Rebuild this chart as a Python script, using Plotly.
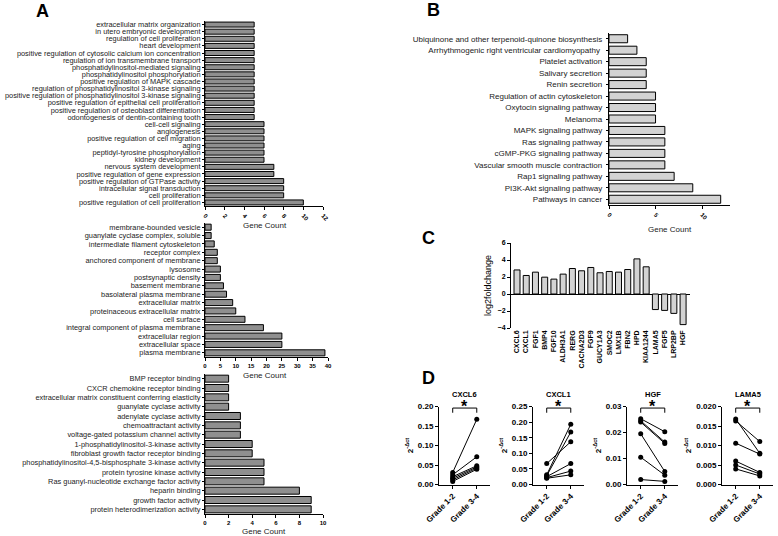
import plotly.graph_objects as go

W, H = 778, 536
FONT = "Liberation Sans, Arial, sans-serif"

# ---- Panel A: GO biological process ----
bp_terms = [
    "extracellular matrix organization", "in utero embryonic development",
    "regulation of cell proliferation", "heart development",
    "positive regulation of cytosolic calcium ion concentration",
    "regulation of ion transmembrane transport", "phosphatidylinositol-mediated signaling",
    "phosphatidylinositol phosphorylation", "positive regulation of MAPK cascade",
    "regulation of phosphatidylinositol 3-kinase signaling",
    "positive regulation of phosphatidylinositol 3-kinase signaling",
    "positive regulation of epithelial cell proliferation",
    "positive regulation of osteoblast differentiation",
    "odontogenesis of dentin-containing tooth", "cell-cell signaling", "angiogenesis",
    "positive regulation of cell migration", "aging", "peptidyl-tyrosine phosphorylation",
    "kidney development", "nervous system development",
    "positive regulation of gene expression", "positive regulation of GTPase activity",
    "intracellular signal transduction", "cell proliferation",
    "positive regulation of cell proliferation",
]
bp_counts = [5] * 14 + [6] * 6 + [7, 7, 8, 8, 8, 10]

# ---- Panel A: GO cellular component ----
cc_terms = [
    "membrane-bounded vesicle", "guanylate cyclase complex, soluble",
    "intermediate filament cytoskeleton", "receptor complex",
    "anchored component of membrane", "lysosome", "postsynaptic density",
    "basement membrane", "basolateral plasma membrane", "extracellular matrix",
    "proteinaceous extracellular matrix", "cell surface",
    "integral component of plasma membrane", "extracellular region",
    "extracellular space", "plasma membrane",
]
cc_counts = [2, 2, 3, 4, 4, 5, 5, 6, 7, 9, 10, 13, 19, 25, 25, 39]

# ---- Panel A: GO molecular function ----
mf_terms = [
    "BMP receptor binding", "CXCR chemokine receptor binding",
    "extracellular matrix constituent conferring elasticity",
    "guanylate cyclase activity", "adenylate cyclase activity",
    "chemoattractant activity", "voltage-gated potassium channel activity",
    "1-phosphatidylinositol-3-kinase activity",
    "fibroblast growth factor receptor binding",
    "phosphatidylinositol-4,5-bisphosphate 3-kinase activity",
    "protein tyrosine kinase activity",
    "Ras guanyl-nucleotide exchange factor activity", "heparin binding",
    "growth factor activity", "protein heterodimerization activity",
]
mf_counts = [2, 2, 2, 2, 3, 3, 3, 4, 4, 5, 5, 5, 8, 9, 9]

# ---- Panel B: KEGG ----
kegg_terms = [
    "Ubiquinone and other terpenoid-quinone biosynthesis ",
    "Arrhythmogenic right ventricular cardiomyopathy  ",
    "Platelet activation ", "Salivary secretion ", "Renin secretion ",
    "Regulation of actin cytoskeleton ", "Oxytocin signaling pathway ",
    "Melanoma ", "MAPK signaling pathway ", "Ras signaling pathway ",
    "cGMP-PKG signaling pathway ", "Vascular smooth muscle contraction ",
    "Rap1 signaling pathway ", "PI3K-Akt signaling pathway ",
    "Pathways in cancer ",
]
kegg_counts = [2, 3, 4, 4, 4, 5, 5, 5, 6, 6, 6, 6, 7, 9, 12]

# ---- Panel C: fold change ----
fc_genes = ["CXCL6", "CXCL1", "FGF1", "BMP4", "FGF10", "ALDH3A1", "RERG", "CACNA2D3",
            "FGF9", "GUCY1A3", "SMOC2", "LMX1B", "FBN2", "HPD", "KIAA1244",
            "LAMA5", "FGF5", "LRP2BP", "HGF"]
fc_values = [2.83, 2.18, 2.57, 1.98, 1.75, 2.34, 3.0, 2.73, 3.12, 2.5, 2.65, 2.57,
             2.88, 4.13, 3.2, -1.83, -1.93, -2.28, -3.6]

# ---- Panel D: qPCR paired ----
grades = ["Grade 1-2", "Grade 3-4"]
cxcl6_g12 = [0.031, 0.025, 0.020, 0.016, 0.012, 0.008]
cxcl6_g34 = [0.167, 0.071, 0.048, 0.045, 0.042, 0.039]
cxcl1_g12 = [0.067, 0.031, 0.028, 0.025, 0.022, 0.020]
cxcl1_g34 = [0.137, 0.193, 0.168, 0.067, 0.043, 0.031]
hgf_g12 = [0.0253, 0.0245, 0.0240, 0.0195, 0.0105, 0.0019]
hgf_g34 = [0.0203, 0.0163, 0.0158, 0.0050, 0.0036, 0.0012]
lama5_g12 = [0.0168, 0.0163, 0.0106, 0.0060, 0.0050, 0.0040]
lama5_g34 = [0.0080, 0.0110, 0.0078, 0.0031, 0.0027, 0.0022]


def xd(a, b):
    return [a / W, b / W]


def yd(top, bottom):
    return [1 - bottom / H, 1 - top / H]


def py(v):
    return 1 - v / H


fig = go.Figure()
layout = {}

axis_common = dict(showline=True, linecolor="black", linewidth=1, ticks="outside",
                   tickcolor="black", showgrid=False, zeroline=False, automargin=False)
bold_tick = dict(family=FONT, size=7, color="black", weight="bold")
label_tick = dict(family=FONT, size=7.4, color="#222")

# Panel A bars
a_panels = [
    (bp_terms, bp_counts, 0.7, (205, 323), (21, 206), [0, 12], 2, 45),
    (cc_terms, cc_counts, 0.72, (205, 328), (223, 357), [0, 40], 5, 0),
    (mf_terms, mf_counts, 0.75, (205, 323), (374, 514), [0, 10], 2, 0),
]
for i, (terms, counts, bw, xr, yr, rng, dt, ang) in enumerate(a_panels, start=1):
    sfx = "" if i == 1 else str(i)
    fig.add_trace(go.Bar(x=counts, y=terms, orientation="h", width=bw,
                         marker=dict(color="#8f8f8f", line=dict(color="black", width=1)),
                         xaxis="x" + sfx, yaxis="y" + sfx, showlegend=False))
    layout["xaxis" + sfx] = dict(domain=xd(*xr), range=rng, dtick=dt, tickangle=ang,
                                 anchor="y" + sfx, ticklen=3, tickfont=dict(bold_tick, size=6),
                                 **axis_common)
    layout["yaxis" + sfx] = dict(domain=yd(*yr), type="category", autorange="reversed",
                                 tickmode="array", tickvals=terms, ticktext=terms,
                                 anchor="x" + sfx, ticklen=2, tickfont=label_tick,
                                 **axis_common)

# Panel B bars
fig.add_trace(go.Bar(x=kegg_counts, y=kegg_terms, orientation="h", width=0.7,
                     marker=dict(color="#d3d3d3", line=dict(color="black", width=1)),
                     xaxis="x4", yaxis="y4", showlegend=False))
layout["xaxis4"] = dict(domain=xd(609, 730), range=[0, 13], dtick=5, tickangle=45,
                        anchor="y4", ticklen=3, tickfont=dict(bold_tick, size=6), **axis_common)
layout["yaxis4"] = dict(domain=yd(33, 205), type="category", autorange="reversed",
                        tickmode="array", tickvals=kegg_terms, ticktext=kegg_terms,
                        anchor="x4", ticklen=2, tickfont=dict(label_tick, size=8), **axis_common)

# Panel C bars
fig.add_trace(go.Bar(x=fc_genes, y=fc_values, width=0.65,
                     marker=dict(color="#d3d3d3", line=dict(color="black", width=1)),
                     xaxis="x5", yaxis="y5", showlegend=False))
layout["xaxis5"] = dict(domain=xd(511, 690), range=[-0.65, 18.75], anchor="y5",
                        tickmode="array", tickvals=fc_genes, ticktext=fc_genes,
                        tickangle=-90, ticks="", showline=False, showgrid=False,
                        zeroline=False, automargin=False, tickfont=dict(bold_tick, size=7))
layout["yaxis5"] = dict(domain=yd(243, 328), range=[-4, 6], dtick=2, anchor="x5",
                        showline=True, linecolor="black", linewidth=1, ticks="outside",
                        ticklen=3, tickcolor="black", showgrid=False, zeroline=True,
                        zerolinecolor="black", zerolinewidth=1, automargin=False,
                        tickfont=dict(bold_tick, size=7),
                        title=dict(text="log2foldchange", standoff=4,
                                   font=dict(family=FONT, size=9, color="black")))

# Panel D paired plots
d_panels = [
    ("CXCL6", cxcl6_g12, cxcl6_g34, 439, [0, 0.2], 0.05, ".2f"),
    ("CXCL1", cxcl1_g12, cxcl1_g34, 533, [0, 0.25], 0.05, ".2f"),
    ("HGF", hgf_g12, hgf_g34, 627, [0, 0.03], 0.01, ".2f"),
    ("LAMA5", lama5_g12, lama5_g34, 722, [0, 0.02], 0.005, ".3f"),
]
annotations = []
shapes = []


def note(text, x, y, size, xref="paper", color="black"):
    xv = x / W if xref == "paper" else x
    return dict(text=text, x=xv, y=py(y), xref=xref, yref="paper", showarrow=False,
                xanchor="center", yanchor="middle",
                font=dict(family=FONT, size=size, color=color))


for k, (name, g12, g34, x0, rng, dt, fmt) in enumerate(d_panels, start=6):
    xa, ya = "x%d" % k, "y%d" % k
    for a, b in zip(g12, g34):
        fig.add_trace(go.Scatter(x=grades, y=[a, b], mode="lines+markers",
                                 line=dict(color="black", width=1),
                                 marker=dict(color="black", size=5),
                                 xaxis=xa, yaxis=ya, showlegend=False, cliponaxis=False))
    layout["xaxis%d" % k] = dict(domain=xd(x0, x0 + 51), type="category",
                                 range=[-0.57, 1.55], anchor=ya, tickangle=-45, ticklen=3,
                                 tickfont=dict(bold_tick, size=8), **axis_common)
    layout["yaxis%d" % k] = dict(domain=yd(406.5, 484.5), range=rng, dtick=dt,
                                 tickformat=fmt, anchor=xa, ticklen=3,
                                 tickfont=dict(bold_tick, size=8),
                                 title=dict(text="2<sup>-Δct</sup>", standoff=3,
                                            font=dict(family=FONT, size=8, color="black",
                                                      weight="bold")),
                                 **axis_common)
    annotations.append(note("<b>%s</b>" % name, x0 + 25.5, 394, 7.5))
    top = rng[1]
    shapes.append(dict(type="path", xref=xa, yref=ya, line=dict(color="black", width=1),
                       path="M 0,%g L 0,%g L 1,%g L 1,%g" % (top * 0.92, top * 0.98,
                                                             top * 0.98, top * 0.92)))
    annotations.append(note("<b>*</b>", 0.5, 406, 16, xref=xa))

# gene count titles
for x, y in [(265, 226), (265, 375), (264, 531), (670, 229)]:
    annotations.append(note("Gene Count", x, y, 8, color="#222"))

# panel letters
for t, x, y in [("A", 42, 11), ("B", 433, 10), ("C", 428, 238), ("D", 428, 378)]:
    annotations.append(note("<b>%s</b>" % t, x, y, 18))

fig.update_layout(width=W, height=H, margin=dict(l=0, r=0, t=0, b=0),
                  plot_bgcolor="white", paper_bgcolor="white",
                  font=dict(family=FONT, color="black"),
                  annotations=annotations, shapes=shapes, bargap=0.3, **layout)

fig.write_html("out.html", config={"displayModeBar": False},
               post_script="document.body.style.margin='0';")
